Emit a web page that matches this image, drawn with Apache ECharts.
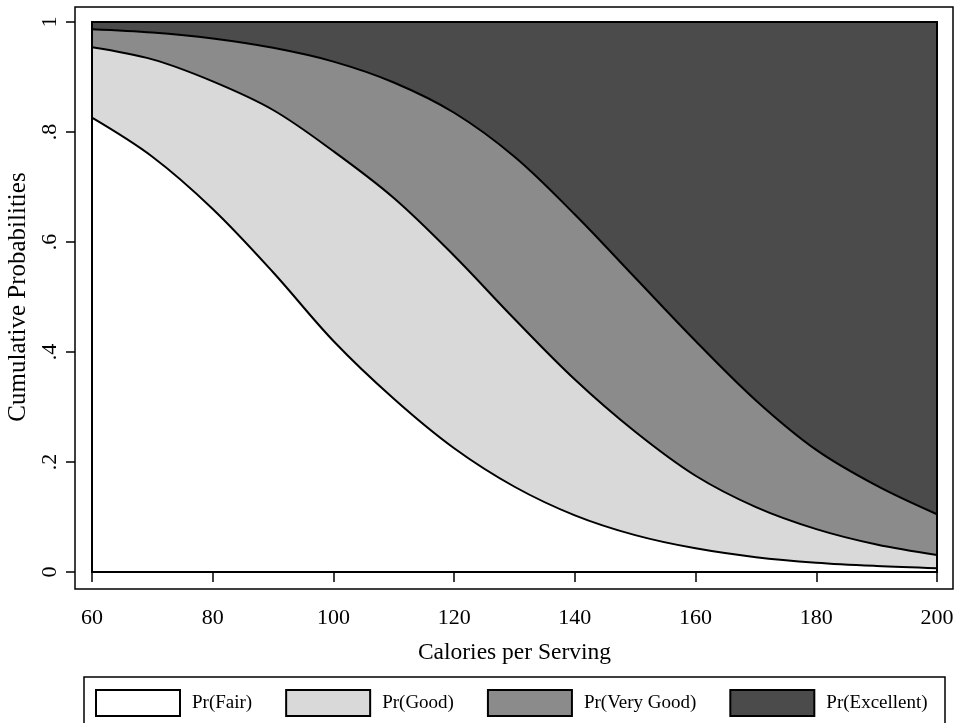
<!DOCTYPE html>
<html>
<head>
<meta charset="utf-8">
<script src="https://cdn.jsdelivr.net/npm/echarts@6/dist/echarts.min.js"></script>
<style>
html,body{margin:0;padding:0;background:#fff;}
#chart{width:956px;height:723px;}
</style>
</head>
<body>
<div id="chart"></div>
<script>
// Calories per serving (x values)
const calories = [60, 70, 80, 90, 100, 110, 120, 130, 140, 150, 160, 170, 180, 190, 200];
// Cumulative probabilities
const cumFair = [0.826, 0.755, 0.660, 0.545, 0.420, 0.315, 0.225, 0.155, 0.103, 0.067, 0.043, 0.027, 0.017, 0.011, 0.007];
const cumGood = [0.954, 0.932, 0.892, 0.840, 0.765, 0.680, 0.575, 0.460, 0.350, 0.255, 0.175, 0.118, 0.078, 0.050, 0.031];
const cumVeryGood = [0.987, 0.981, 0.970, 0.953, 0.928, 0.890, 0.835, 0.755, 0.650, 0.535, 0.420, 0.312, 0.222, 0.157, 0.105];
const cumExcellent = [1, 1, 1, 1, 1, 1, 1, 1, 1, 1, 1, 1, 1, 1, 1];

const seriesNames = ['Pr(Fair)', 'Pr(Good)', 'Pr(Very Good)', 'Pr(Excellent)'];
const fills = ['#ffffff', '#d9d9d9', '#8b8b8b', '#4b4b4b'];
const xTicks = [60, 80, 100, 120, 140, 160, 180, 200];
const yTickLabels = {0: '0', 0.2: '.2', 0.4: '.4', 0.6: '.6', 0.8: '.8', 1: '1'};

const FONT = "'Liberation Serif', 'Times New Roman', serif";
const cums = [cumFair, cumGood, cumVeryGood, cumExcellent];

const series = cums.map((arr, i) => ({
  name: seriesNames[i],
  type: 'line',
  data: calories.map((c, j) => [c, arr[j]]),
  smooth: 0.35,
  symbol: 'none',
  z: 10 - i,
  itemStyle: { color: fills[i] },
  lineStyle: { color: '#000', width: 2 },
  areaStyle: { color: fills[i], opacity: 1, origin: 'start' },
  emphasis: { disabled: true },
  silent: true
}));

const chart = echarts.init(document.getElementById('chart'));
chart.setOption({
  animation: false,
  backgroundColor: '#fff',
  grid: { left: 92, right: 19, top: 22, bottom: 151, containLabel: false, outerBoundsMode: 'none' },
  xAxis: {
    type: 'value', min: 60, max: 200, interval: 20,
    offset: 17,
    axisLine: { show: false },
    axisTick: { show: true, length: 10, lineStyle: { color: '#000', width: 1.5 } },
    axisLabel: { fontFamily: FONT, fontSize: 22, color: '#000', margin: 18,
      formatter: v => xTicks.includes(v) ? String(v) : '' },
    splitLine: { show: false },
    name: 'Calories per Serving', nameLocation: 'middle', nameGap: 52,
    nameTextStyle: { fontFamily: FONT, fontSize: 23.5, color: '#000' }
  },
  yAxis: {
    type: 'value', min: 0, max: 1, interval: 0.2,
    offset: 17,
    axisLine: { show: false },
    axisTick: { show: true, length: 9, lineStyle: { color: '#000', width: 1.5 } },
    axisLabel: { fontFamily: FONT, fontSize: 22, color: '#000', margin: 14, rotate: 90,
      formatter: v => yTickLabels[Math.round(v * 10) / 10] },
    splitLine: { show: false },
    name: 'Cumulative Probabilities', nameLocation: 'middle', nameGap: 37,
    nameTextStyle: { fontFamily: FONT, fontSize: 25, color: '#000' }
  },
  legend: {
    left: 95, top: 689, padding: 0,
    itemWidth: 84, itemHeight: 26, itemGap: 33,
    icon: 'rect',
    textStyle: { fontFamily: FONT, fontSize: 19, color: '#000', padding: [0, 0, 0, 7] },
    selectedMode: false,
    data: seriesNames.map((n, i) => ({ name: n, itemStyle: { color: fills[i], borderColor: '#000', borderWidth: 2 } }))
  },
  graphic: [
    { type: 'rect', z: 100, silent: true,
      shape: { x: 75, y: 7, width: 878, height: 582 },
      style: { fill: 'none', stroke: '#000', lineWidth: 1.5 } },
    { type: 'rect', z: 100, silent: true,
      shape: { x: 92, y: 22, width: 845, height: 550 },
      style: { fill: 'none', stroke: '#000', lineWidth: 2 } },
    { type: 'rect', z: 100, silent: true,
      shape: { x: 84, y: 677, width: 861, height: 70 },
      style: { fill: 'none', stroke: '#000', lineWidth: 1.5 } }
  ],
  series: series
});
</script>
</body>
</html>
